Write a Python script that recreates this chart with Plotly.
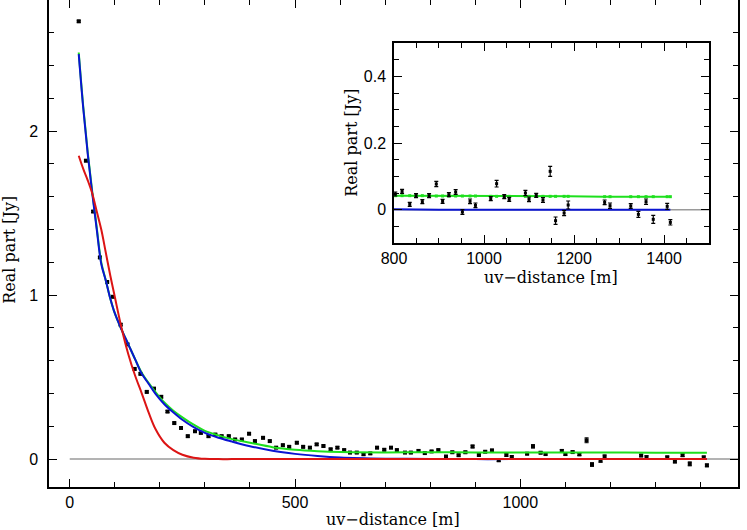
import plotly.graph_objects as go

# ---------------- data ----------------
uv = [20, 36, 52, 67, 83, 96, 113, 128, 144, 157, 171, 187, 203, 217, 232, 247, 262, 278,
      291, 308, 323, 337, 353, 367, 382, 398, 411, 429, 444, 458, 473, 487, 504, 518, 533,
      548, 563, 579, 594, 609, 622, 637, 652, 667, 682, 698, 713, 726, 744, 757, 774, 788,
      803, 818, 835, 849, 863, 878, 894, 908, 922, 937, 952, 969, 981, 1015, 1028, 1045,
      1056, 1092, 1100, 1116, 1131, 1147, 1159, 1178, 1187, 1268, 1280, 1326, 1343, 1360,
      1376, 1407, 1414]
re_part = [2.67, 1.82, 1.51, 1.23, 1.08, 0.99, 0.82, 0.70, 0.55, 0.52, 0.41, 0.43, 0.38,
           0.29, 0.22, 0.19, 0.14, 0.17, 0.16, 0.14, 0.15, 0.14, 0.14, 0.12, 0.12, 0.155,
           0.11, 0.13, 0.11, 0.07, 0.085, 0.075, 0.10, 0.075, 0.07, 0.09, 0.08, 0.06, 0.07,
           0.055, 0.04, 0.04, 0.03, 0.035, 0.07, 0.057, 0.07, 0.055, 0.04, 0.04, 0.05, 0.037,
           0.047, 0.055, 0.016, 0.042, 0.024, 0.042, 0.077, 0.025, 0.045, 0.053, -0.007,
           0.025, 0.013, 0.033, 0.078, 0.039, 0.031, 0.05, 0.031, 0.043, 0.029, 0.115,
           -0.033, -0.01, 0.014, 0.022, 0.012, 0.011, -0.014, 0.024, -0.029, 0.01, -0.038]
re_err = [0.006, 0.006, 0.006, 0.006, 0.006, 0.006, 0.006, 0.006, 0.006, 0.006, 0.006,
          0.006, 0.006, 0.006, 0.006, 0.006, 0.006, 0.006, 0.006, 0.006, 0.006, 0.006,
          0.006, 0.006, 0.006, 0.006, 0.006, 0.006, 0.006, 0.006, 0.006, 0.006, 0.006,
          0.006, 0.006, 0.006, 0.006, 0.006, 0.006, 0.006, 0.006, 0.006, 0.006, 0.006,
          0.006, 0.006, 0.006, 0.006, 0.006, 0.006, 0.006, 0.006, 0.006, 0.006, 0.006,
          0.006, 0.006, 0.006, 0.008, 0.006, 0.006, 0.007, 0.007, 0.007, 0.007, 0.006,
          0.010, 0.006, 0.006, 0.008, 0.007, 0.006, 0.007, 0.015, 0.011, 0.008, 0.012,
          0.007, 0.008, 0.007, 0.009, 0.008, 0.012, 0.009, 0.008]

# model curves
model_x = [20, 30, 40, 50, 60, 70, 80, 90, 100, 115, 130, 145, 160, 175, 190, 210, 230, 250,
           275, 300, 330, 360, 400, 450, 500, 550, 600, 700, 800, 900, 1000, 1100, 1200,
           1300, 1414]
model_green = [2.48, 2.15, 1.87, 1.63, 1.41, 1.20, 1.09, 0.98, 0.89, 0.79, 0.70, 0.61, 0.525,
               0.465, 0.41, 0.345, 0.295, 0.255, 0.21, 0.172, 0.145, 0.122, 0.10, 0.073,
               0.057, 0.048, 0.043, 0.041, 0.042, 0.041, 0.041, 0.040, 0.040, 0.039, 0.039]
model_blue = [2.47, 2.14, 1.86, 1.62, 1.40, 1.19, 1.09, 0.98, 0.89, 0.79, 0.70, 0.61, 0.52,
              0.46, 0.40, 0.335, 0.285, 0.24, 0.195, 0.16, 0.13, 0.107, 0.079, 0.051, 0.032,
              0.019, 0.010, 0.003, 0.001, 0.0, 0.0, 0.0, 0.0, 0.0, 0.0]
model_red = [1.85, 1.77, 1.70, 1.62, 1.51, 1.40, 1.26, 1.12, 0.99, 0.80, 0.64, 0.51, 0.40,
             0.285, 0.185, 0.10, 0.055, 0.027, 0.009, 0.002, 0.0, 0.0, 0.0, 0.0, 0.0, 0.0,
             0.0, 0.0, 0.0, 0.0, 0.0, 0.0, 0.0, 0.0, 0.0]
# green model sampled at the data positions shown in the inset
inset_green_x = [803, 818, 835, 849, 863, 878, 894, 908, 922, 937, 952, 969, 981, 1015, 1028,
                 1045, 1056, 1092, 1100, 1116, 1131, 1147, 1159, 1178, 1187, 1268, 1280,
                 1326, 1343, 1360, 1376, 1407, 1414]
inset_green_y = [0.042, 0.042, 0.042, 0.042, 0.042, 0.041, 0.041, 0.041, 0.041, 0.041, 0.041,
                 0.041, 0.041, 0.040, 0.040, 0.040, 0.040, 0.040, 0.040, 0.040, 0.040, 0.040,
                 0.040, 0.040, 0.040, 0.039, 0.039, 0.039, 0.039, 0.039, 0.039, 0.039, 0.039]
zero_x = [0, 1500]
zero_y = [0, 0]

GREEN = "#1ee01e"
BLUE = "#0a14d2"
RED = "#dc1414"
GRAY = "#9a9a9a"

fig = go.Figure()

# ---------------- main panel ----------------
fig.add_trace(go.Scatter(x=zero_x, y=zero_y, mode="lines", line=dict(color=GRAY, width=1.5),
                         xaxis="x", yaxis="y", showlegend=False, hoverinfo="skip"))
fig.add_trace(go.Scatter(x=uv, y=re_part, mode="markers",
                         marker=dict(symbol="square", size=4, color="black"),
                         error_y=dict(type="data", array=re_err, color="black", thickness=1, width=2),
                         xaxis="x", yaxis="y", showlegend=False))
fig.add_trace(go.Scatter(x=model_x, y=model_green, mode="lines", line=dict(color=GREEN, width=2, shape="spline"),
                         xaxis="x", yaxis="y", showlegend=False))
fig.add_trace(go.Scatter(x=model_x, y=model_blue, mode="lines", line=dict(color=BLUE, width=2, shape="spline"),
                         xaxis="x", yaxis="y", showlegend=False))
fig.add_trace(go.Scatter(x=model_x, y=model_red, mode="lines", line=dict(color=RED, width=2, shape="spline"),
                         xaxis="x", yaxis="y", showlegend=False))

# ---------------- inset panel ----------------
fig.add_trace(go.Scatter(x=zero_x, y=zero_y, mode="lines", line=dict(color=GRAY, width=1.5),
                         xaxis="x2", yaxis="y2", showlegend=False, hoverinfo="skip"))
fig.add_trace(go.Scatter(x=model_x, y=model_blue, mode="lines", line=dict(color=BLUE, width=2),
                         xaxis="x2", yaxis="y2", showlegend=False))
fig.add_trace(go.Scatter(x=inset_green_x, y=inset_green_y, mode="lines+markers",
                         line=dict(color=GREEN, width=2), marker=dict(symbol="square", size=3, color=GREEN),
                         xaxis="x2", yaxis="y2", showlegend=False))
fig.add_trace(go.Scatter(x=uv, y=re_part, mode="markers",
                         marker=dict(symbol="square", size=3, color="black"),
                         error_y=dict(type="data", array=re_err, color="black", thickness=1.2, width=2),
                         xaxis="x2", yaxis="y2", showlegend=False))

TICKFONT = dict(family="Liberation Sans, Arial, sans-serif", size=16, color="black")
TITLEFONT = dict(family="DejaVu Serif, serif", size=16, color="black")

axis_common = dict(showline=True, linecolor="black", linewidth=1.5, mirror="allticks",
                   ticks="inside", tickcolor="black", tickwidth=1.2, showgrid=False,
                   zeroline=False, tickfont=TICKFONT, automargin=False)

fig.update_layout(
    width=747, height=530,
    margin=dict(l=49, r=9, t=0, b=43, autoexpand=False),
    paper_bgcolor="white", plot_bgcolor="white",
    xaxis=dict(range=[-46, 1483], tickmode="linear", tick0=0, dtick=500, ticklen=8,
               minor=dict(dtick=100, tick0=0, ticklen=5, ticks="inside", tickcolor="black"),
               domain=[0, 1], anchor="y", **axis_common),
    yaxis=dict(range=[-0.17, 2.8], tickmode="linear", tick0=0, dtick=1, ticklen=8,
               minor=dict(dtick=0.2, tick0=0, ticklen=5, ticks="inside", tickcolor="black"),
               domain=[0, 1], anchor="x", ticklabelstandoff=6, **axis_common),
    xaxis2=dict(range=[800, 1500], tickmode="linear", tick0=800, dtick=200, ticklen=8,
                minor=dict(dtick=50, tick0=800, ticklen=5, ticks="inside", tickcolor="black"),
                domain=[0.5007, 0.958], anchor="y2", **axis_common),
    yaxis2=dict(range=[-0.1, 0.5], tickmode="linear", tick0=0, dtick=0.2, ticklen=8,
                minor=dict(dtick=0.05, tick0=0, ticklen=5, ticks="inside", tickcolor="black"),
                domain=[0.501, 0.9117], anchor="x2", ticklabelstandoff=3, **axis_common),
    shapes=[dict(type="rect", xref="paper", yref="paper", x0=0.5007, x1=0.958, y0=0.501, y1=0.9117,
                 fillcolor="white", line=dict(width=0), layer="below")],
    annotations=[
        dict(text="uv−distance [m]", xref="paper", yref="paper", x=0.499, y=-0.067,
             xanchor="center", yanchor="middle", showarrow=False, font=TITLEFONT),
        dict(text="Real part [Jy]", xref="paper", yref="paper", x=-0.0566, y=0.487,
             xanchor="center", yanchor="middle", textangle=-90, showarrow=False, font=TITLEFONT),
        dict(text="uv−distance [m]", xref="paper", yref="paper", x=0.729, y=0.430,
             xanchor="center", yanchor="middle", showarrow=False, font=TITLEFONT),
        dict(text="Real part [Jy]", xref="paper", yref="paper", x=0.4398, y=0.707,
             xanchor="center", yanchor="middle", textangle=-90, showarrow=False, font=TITLEFONT),
    ],
)

fig.write_html("out.html", config={"displayModeBar": False},
               post_script="document.body.style.margin='0';document.body.style.padding='0';")
